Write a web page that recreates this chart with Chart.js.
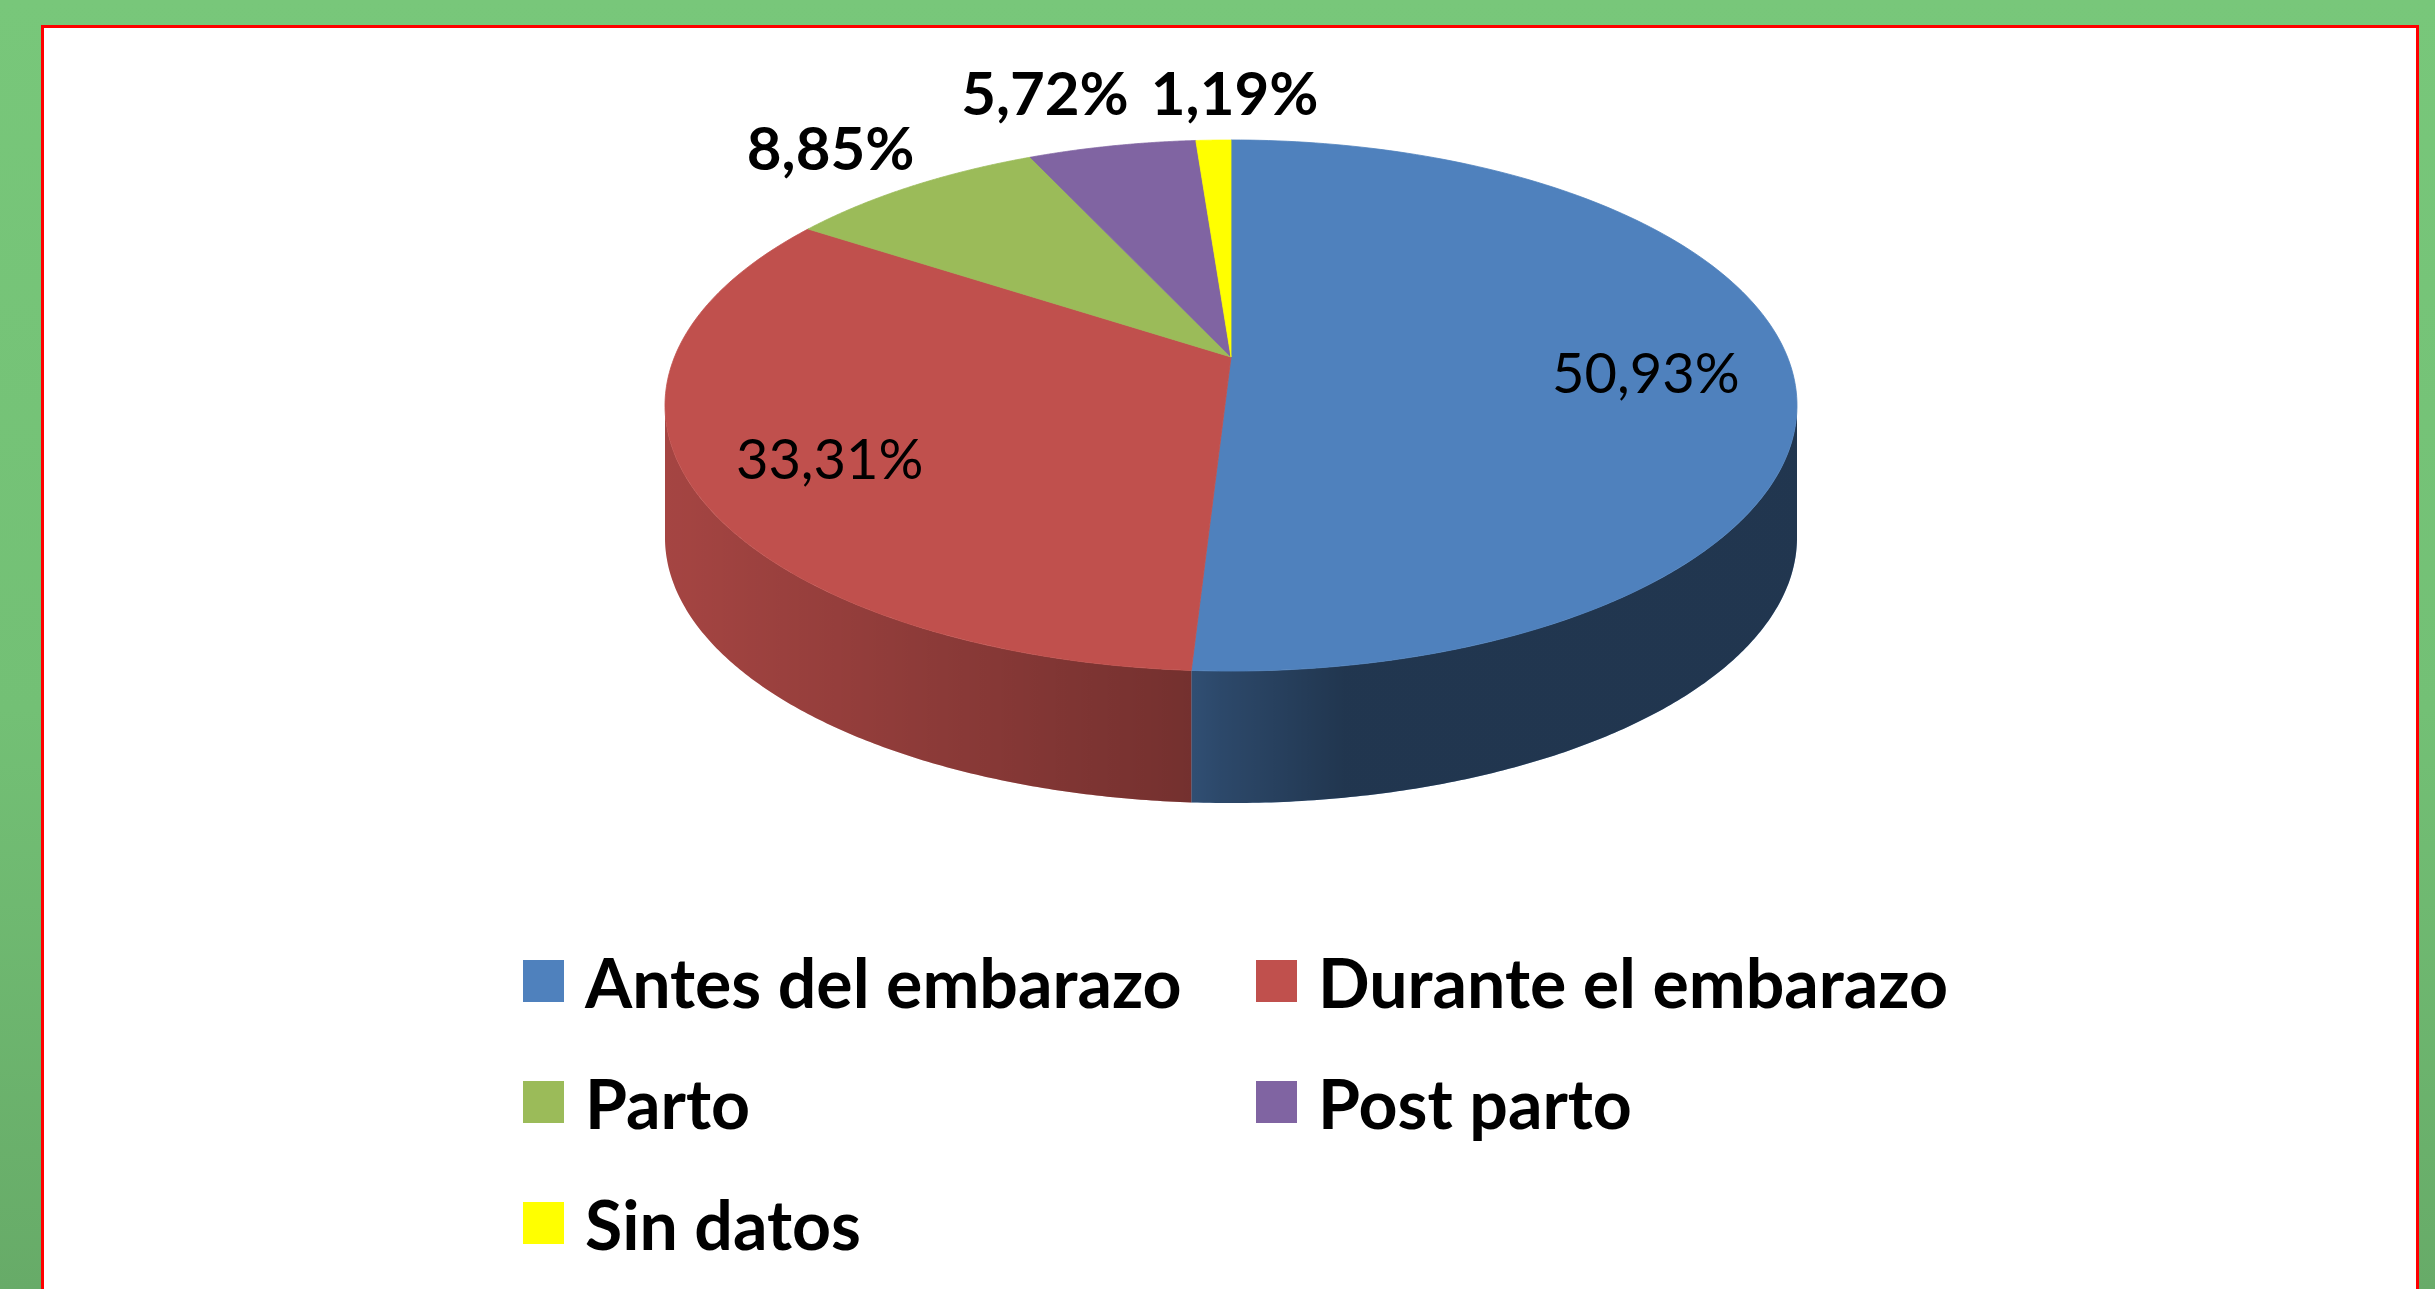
<!DOCTYPE html>
<html>
<head>
<meta charset="utf-8">
<script src="https://cdn.jsdelivr.net/npm/chart.js@4.4.1/dist/chart.umd.min.js"></script>
<style>
  html, body { margin: 0; padding: 0; }
  body {
    width: 2435px; height: 1289px; overflow: hidden; position: relative;
    background: linear-gradient(to bottom, #78c77a 0%, #73c075 55%, #67ab68 100%);
  }
  #panel {
    position: absolute; left: 41px; top: 25px; width: 2372px; height: 1300px;
    background: #fff; border: 3px solid #ff0000; border-bottom: none;
  }
  #chart { position: absolute; left: 0; top: 0; }
  #legend {
    position: absolute; left: 523px; top: 960px;
    display: grid; grid-template-columns: 733px auto; grid-auto-rows: 121px;
    font: bold 68px Lato, "DejaVu Sans Condensed", sans-serif;
    color: #000;
  }
  #legend .item { display: flex; align-items: center; height: 42px; white-space: nowrap; }
  #legend .box { width: 41px; height: 42px; margin-right: 21px; flex: none; }
</style>
</head>
<body>
<div id="panel"></div>
<canvas id="chart" width="2435" height="1289"></canvas>
<div id="legend"></div>
<script>
// momento de la violencia (porcentajes)
const labels = ["Antes del embarazo", "Durante el embarazo", "Parto", "Post parto", "Sin datos"];
const values = [50.93, 33.31, 8.85, 5.72, 1.19];
const colors = ["#4F81BD", "#C0504D", "#9BBB59", "#8064A2", "#FFFF00"];

const fmt = (v) => v.toFixed(2).replace(".", ",") + "%";
const FONT = 'Lato, "DejaVu Sans Condensed", sans-serif';

// perspective view of the flat pie: circle -> ellipse, apex sits behind the middle
function projector(arc, o) {
  const { x: cx, outerRadius: r } = arc;
  const p = o.persp;
  const A = r * Math.sqrt(1 - p * p);
  const B = r * o.tilt;
  return (ang, rho = 1, drop = 0) => {
    const u = rho * Math.cos(ang), v = rho * Math.sin(ang);
    const d = 1 - p * v;
    return [cx + (A * u) / d, o.centerY + (B * v) / d + drop];
  };
}

const pie3d = {
  id: "pie3d",
  beforeDatasetsDraw(chart, args, opts) {
    const ctx = chart.ctx;
    const arcs = chart.getDatasetMeta(0).data;
    const { x: cx, outerRadius: r } = arcs[0];
    const P = projector(arcs[0], opts);
    const n = 160;

    const shade = ctx.createLinearGradient(cx - r, 0, cx + r, 0);
    shade.addColorStop(0, "rgba(0,0,0,0.14)");
    shade.addColorStop(0.47, "rgba(0,0,0,0.40)");
    shade.addColorStop(0.49, "rgba(0,0,0,0.44)");
    shade.addColorStop(0.6, "rgba(0,0,0,0.58)");
    shade.addColorStop(1, "rgba(0,0,0,0.58)");

    // front wall: visible between the two silhouette points
    const edge = Math.asin(opts.persp);
    arcs.forEach((a) => {
      const lo = Math.max(a.startAngle, edge);
      const hi = Math.min(a.endAngle, Math.PI - edge);
      if (hi <= lo) return;
      ctx.beginPath();
      for (let j = 0; j <= n; j++) ctx.lineTo(...P(lo + ((hi - lo) * j) / n));
      for (let j = n; j >= 0; j--) ctx.lineTo(...P(lo + ((hi - lo) * j) / n, 1, opts.depth));
      ctx.closePath();
      ctx.fillStyle = a.options.backgroundColor;
      ctx.fill();
      ctx.fillStyle = shade;
      ctx.fill();
    });

    // top face
    arcs.forEach((a) => {
      ctx.beginPath();
      ctx.moveTo(...P(0, 0));
      for (let j = 0; j <= n; j++) ctx.lineTo(...P(a.startAngle + ((a.endAngle - a.startAngle) * j) / n));
      ctx.closePath();
      ctx.fillStyle = a.options.backgroundColor;
      ctx.fill();
      ctx.strokeStyle = a.options.backgroundColor;
      ctx.lineWidth = 0.8;
      ctx.stroke();
    });
  },
  beforeDatasetDraw() {
    return false;
  },
  afterDatasetsDraw(chart, args, opts) {
    const ctx = chart.ctx;
    const arcs = chart.getDatasetMeta(0).data;
    const P = projector(arcs[0], opts);
    const data = chart.data.datasets[0].data;

    const put = (text, x, y, size) => {
      ctx.fillText(text, x, y + 0.36 * size);
    };
    ctx.fillStyle = "#000";
    ctx.textAlign = "center";
    ctx.textBaseline = "alphabetic";

    const outside = [];
    arcs.forEach((a, i) => {
      const mid = (a.startAngle + a.endAngle) / 2;
      const c = Math.cos(mid), s = Math.sin(mid);
      const text = fmt(data[i]);
      if (data[i] >= 20) {
        ctx.font = "56px " + FONT;
        const [x, y] = P(mid, 0.75);
        put(text, x - 4, y + 10, 56);
      } else {
        ctx.font = "bold 60px " + FONT;
        const w = ctx.measureText(text).width, h = 50;
        const [x, y] = P(mid);
        outside.push({ text, w, h, x: x + c * (w / 2 + 40), y: y + s * (h / 2 + 25) });
      }
    });

    // push overlapping outside labels apart horizontally
    outside.sort((p, q) => p.x - q.x);
    for (let pass = 0; pass < 4; pass++) {
      for (let i = 0; i < outside.length - 1; i++) {
        const p = outside[i], q = outside[i + 1];
        if (Math.abs(p.y - q.y) > (p.h + q.h) / 2) continue;
        const need = p.w / 2 + q.w / 2 + 22;
        const gap = q.x - p.x;
        if (gap < need) {
          const d = (need - gap) / 2;
          p.x -= d + 5; q.x += d - 5;
          const my = (p.y + q.y) / 2;
          p.y = my; q.y = my;
        }
      }
    }
    ctx.font = "bold 60px " + FONT;
    outside.forEach((o) => put(o.text, o.x, o.y, 60));
  },
};

const htmlLegend = {
  id: "htmlLegend",
  afterUpdate(chart) {
    const el = document.getElementById("legend");
    const items = chart.options.plugins.legend.labels.generateLabels(chart);
    el.innerHTML = items
      .map(
        (it) =>
          `<div class="item"><span class="box" style="background:${it.fillStyle}"></span><span>${it.text}</span></div>`,
      )
      .join("");
  },
};

new Chart(document.getElementById("chart"), {
  type: "pie",
  data: {
    labels,
    datasets: [{ data: values, backgroundColor: colors, borderWidth: 0 }],
  },
  options: {
    responsive: false,
    animation: false,
    events: [],
    layout: { padding: { left: 665, right: 638, top: 0, bottom: 0 } },
    plugins: {
      legend: { display: false },
      tooltip: { enabled: false },
      pie3d: { tilt: 0.4535, persp: 0.1827, centerY: 357, depth: 132 },
    },
  },
  plugins: [pie3d, htmlLegend],
});
</script>
</body>
</html>
